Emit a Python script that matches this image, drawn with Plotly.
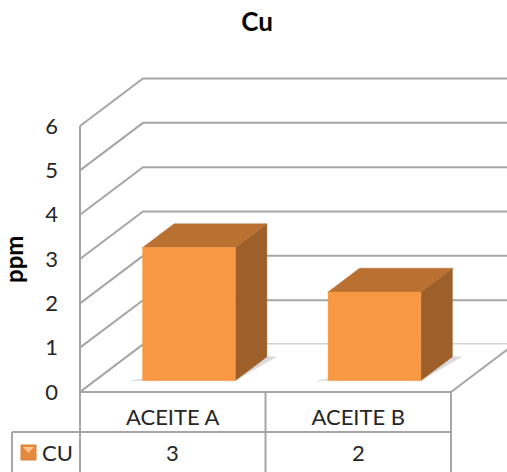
import plotly.graph_objects as go

# data
categories = ["ACEITE A", "ACEITE B"]
series_name = "CU"
values = [3, 2]
y_ticks = [0, 1, 2, 3, 4, 5, 6]
title_text = "Cu"
y_title = "ppm"

# layout constants (pixels)
W, H = 507, 472
PLOT_L, FLOOR_Y = 78, 392
WALL_X, FRONT_R = 80, 451
CAT_PX = (FRONT_R - WALL_X) / len(categories)
UNIT_PX = 44.33
DEPTH_X = 63 / CAT_PX      # oblique depth in category units
DEPTH_Y = 47.5 / UNIT_PX   # oblique depth in value units
BAR_W = 0.5
BAR_SHIFT = 0.006
BAR_D0, BAR_D1 = 0.24, 0.74
YMAX = max(y_ticks)

GRID = "#A6A6A6"
FRONT, TOP, SIDE = "#F89843", "#B97030", "#9E602A"
SHADOW = "#DADADA"
TEXT = "#262626"
FONT = "Lato"
TICK_SIZE = 22


def proj(x, y, d):
    return x + d * DEPTH_X, y + d * DEPTH_Y


def poly(points, fill):
    xs, ys = zip(*points)
    return go.Scatter(x=list(xs) + [xs[0]], y=list(ys) + [ys[0]], mode="lines", fill="toself",
                      fillcolor=fill, line=dict(color=fill, width=0.5), hoverinfo="skip",
                      showlegend=False)


def grid_line(points):
    xs, ys = zip(*points)
    return go.Scatter(x=list(xs), y=list(ys), mode="lines", line=dict(color=GRID, width=2),
                      hoverinfo="skip", showlegend=False)


x_left, x_right = -0.5, len(categories) - 0.5
x_range = [x_left - (WALL_X - PLOT_L) / CAT_PX, x_left + (W - WALL_X) / CAT_PX]
y_range = [0, FLOOR_Y / UNIT_PX]

fig = go.Figure()

# walls: back lines and left-wall diagonals
for t in y_ticks:
    bx, by = proj(x_left, t, 1)
    fig.add_trace(grid_line([(x_left, t), (bx, by), (x_range[1] + 1, by)]))
fig.add_trace(grid_line([(x_left, 0), (x_left, YMAX)]))

# floor
fl = proj(x_left, 0, 1)
fr = proj(x_right, 0, 1)
fig.add_trace(poly([(x_left, 0), (x_right, 0), fr, fl], "#FFFFFF"))
fig.add_trace(grid_line([(x_right, 0), fr]))
fig.add_trace(grid_line([(x_left, 0), fl]))

# bars
for i, v in enumerate(values):
    x0, x1 = i + BAR_SHIFT - BAR_W / 2, i + BAR_SHIFT + BAR_W / 2
    # shadow on the floor
    fig.add_trace(poly([proj(x0 - 0.06, 0, BAR_D0), proj(x1, 0, BAR_D0),
                        proj(x1 + 0.05, 0, BAR_D1), proj(x1, 0, BAR_D1)], SHADOW))
    fig.add_trace(poly([proj(x1, 0, BAR_D0), proj(x1, v, BAR_D0),
                        proj(x1, v, BAR_D1), proj(x1, 0, BAR_D1)], SIDE))
    fig.add_trace(poly([proj(x0, v, BAR_D0), proj(x1, v, BAR_D0),
                        proj(x1, v, BAR_D1), proj(x0, v, BAR_D1)], TOP))
    fig.add_trace(poly([proj(x0, 0, BAR_D0), proj(x1, 0, BAR_D0),
                        proj(x1, v, BAR_D0), proj(x0, v, BAR_D0)], FRONT))


def px(p):
    return (p - PLOT_L) / (W - PLOT_L)


def py(p):
    return (FLOOR_Y - p) / FLOOR_Y


shapes = []
def paper_line(x0, y0, x1, y1):
    shapes.append(dict(type="line", xref="paper", yref="paper", x0=px(x0), x1=px(x1),
                       y0=py(y0), y1=py(y1), line=dict(color=GRID, width=2), layer="above"))


ROW_Y, LEFT_X = 432, 12
edges = [WALL_X + i * CAT_PX for i in range(len(categories) + 1)]
paper_line(WALL_X, FLOOR_Y, FRONT_R, FLOOR_Y)
paper_line(LEFT_X, ROW_Y, FRONT_R, ROW_Y)
paper_line(LEFT_X, ROW_Y, LEFT_X, H)
for e in edges:
    paper_line(e, FLOOR_Y, e, H)

# legend key
shapes.append(dict(type="rect", xref="paper", yref="paper", x0=px(21), x1=px(36), y0=py(445), y1=py(460),
                   fillcolor="#E58A3C", line=dict(color="#D98238", width=1)))
shapes.append(dict(type="path", xref="paper", yref="paper",
                   path=f"M {px(23)} {py(447)} L {px(34)} {py(447)} L {px(28.5)} {py(453)} Z",
                   fillcolor="#FBC58C", line=dict(width=0)))

annotations = [dict(text=f"<b>{y_title}</b>", xref="paper", yref="paper", x=px(13), y=py(260),
                    xanchor="center", yanchor="middle", textangle=-90, showarrow=False,
                    font=dict(family=FONT, size=24, color="#000000"))]
annotations.append(dict(text=series_name, xref="paper", yref="paper", x=px(57), y=py(452), showarrow=False,
                        xanchor="center", yanchor="middle", font=dict(family=FONT, size=TICK_SIZE, color=TEXT)))
for i, v in enumerate(values):
    annotations.append(dict(text=str(v), xref="paper", yref="paper", x=px(edges[i] + CAT_PX / 2), y=py(452),
                            showarrow=False, xanchor="center", yanchor="middle",
                            font=dict(family=FONT, size=TICK_SIZE, color=TEXT)))

fig.update_layout(
    width=W, height=H, margin=dict(l=PLOT_L, r=0, t=0, b=H - FLOOR_Y, autoexpand=False),
    paper_bgcolor="white", plot_bgcolor="white", showlegend=False,
    title=dict(text=f"<b>{title_text}</b>", x=257 / W, xanchor="center", y=1 - 22 / H, yanchor="middle",
               font=dict(family=FONT, size=26, color="#000000")),
    xaxis=dict(range=x_range, tickmode="array", tickvals=list(range(len(categories))), ticktext=categories,
               showgrid=False, zeroline=False, showline=False, ticks="", ticklabelstandoff=10,
               tickfont=dict(family=FONT, size=TICK_SIZE, color=TEXT)),
    yaxis=dict(range=y_range, tickmode="array", tickvals=y_ticks, showgrid=False, zeroline=False, showline=False,
               ticks="", ticklabelstandoff=19, tickfont=dict(family=FONT, size=TICK_SIZE, color=TEXT)),
    shapes=shapes, annotations=annotations,
)
fig.write_html("out.html", config={"displayModeBar": False}, post_script="document.body.style.margin='0';")
